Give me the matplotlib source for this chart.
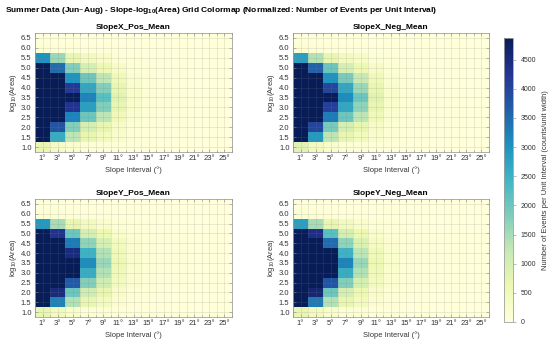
import numpy as np
import matplotlib
matplotlib.use("Agg")
import matplotlib.pyplot as plt
from matplotlib.ticker import MultipleLocator

plt.rcParams['font.family'] = ['Liberation Sans', 'DejaVu Sans']
plt.rcParams['mathtext.default'] = 'regular'

slope_centers = [1, 3, 5, 7, 9, 11, 13, 15, 17, 19, 21, 23, 25]
slope_labels = [f"{s}°" for s in slope_centers]
logarea_centers = [1.0, 1.5, 2.0, 2.5, 3.0, 3.5, 4.0, 4.5, 5.0, 5.5, 6.0, 6.5]
panel_titles = ["SlopeX_Pos_Mean", "SlopeX_Neg_Mean", "SlopeY_Pos_Mean", "SlopeY_Neg_Mean"]

# rows: log10(Area) 1.0 .. 6.5 ; columns: slope 1..25
slopex_pos = [
    [650, 320, 160, 90, 60, 40, 25, 20, 15, 12, 10, 10, 8],
    [7000, 2600, 1300, 700, 420, 200, 80, 40, 25, 18, 14, 12, 10],
    [8500, 3800, 1800, 1000, 700, 300, 110, 50, 30, 20, 15, 12, 10],
    [9500, 6500, 3200, 2000, 1300, 500, 160, 70, 35, 22, 16, 13, 10],
    [9800, 7500, 4300, 2800, 1800, 700, 220, 90, 40, 25, 18, 14, 11],
    [9900, 8000, 5000, 3200, 2200, 800, 260, 100, 45, 28, 20, 15, 12],
    [9700, 7600, 4200, 2700, 1800, 700, 220, 90, 40, 25, 18, 14, 11],
    [9000, 6800, 3000, 2000, 1300, 500, 160, 70, 35, 22, 16, 13, 10],
    [7500, 3500, 1800, 1000, 600, 300, 110, 50, 30, 20, 15, 12, 10],
    [3000, 1600, 700, 400, 250, 100, 50, 30, 20, 15, 12, 10, 8],
    [110, 70, 45, 30, 25, 20, 15, 12, 10, 9, 8, 8, 7],
    [25, 20, 15, 12, 10, 10, 9, 8, 8, 7, 7, 7, 6],
]
slopex_neg = [
    [800, 400, 200, 110, 70, 45, 28, 20, 15, 12, 10, 10, 8],
    [7200, 2900, 1300, 700, 420, 200, 80, 40, 25, 18, 14, 12, 10],
    [8600, 4000, 1900, 1000, 700, 300, 110, 50, 30, 20, 15, 12, 10],
    [9600, 6600, 3300, 2000, 1300, 500, 160, 70, 35, 22, 16, 13, 10],
    [9900, 7600, 4100, 2700, 1700, 700, 220, 90, 40, 25, 18, 14, 11],
    [9900, 8100, 5000, 3100, 2000, 800, 260, 100, 45, 28, 20, 15, 12],
    [9800, 7700, 4000, 2700, 1600, 700, 220, 90, 40, 25, 18, 14, 11],
    [9100, 6900, 3000, 1900, 1200, 500, 160, 70, 35, 22, 16, 13, 10],
    [7600, 3600, 2000, 1000, 600, 300, 110, 50, 30, 20, 15, 12, 10],
    [2800, 1400, 700, 400, 300, 100, 50, 30, 20, 15, 12, 10, 8],
    [120, 75, 50, 35, 25, 20, 15, 12, 10, 9, 8, 8, 7],
    [25, 20, 15, 12, 10, 10, 9, 8, 8, 7, 7, 7, 6],
]
slopey_pos = [
    [700, 400, 200, 100, 60, 40, 25, 20, 15, 12, 10, 10, 8],
    [7300, 3200, 1400, 700, 400, 150, 70, 35, 22, 16, 13, 11, 9],
    [8800, 4500, 2000, 1100, 700, 250, 100, 45, 28, 18, 14, 12, 10],
    [9600, 7000, 3700, 1800, 1100, 400, 140, 60, 32, 20, 15, 12, 10],
    [9900, 7900, 5200, 2600, 1400, 500, 180, 75, 38, 23, 17, 13, 11],
    [9900, 8300, 5600, 3100, 1600, 600, 200, 85, 40, 25, 18, 14, 11],
    [9800, 8000, 4500, 2500, 1400, 500, 180, 75, 38, 23, 17, 13, 11],
    [9200, 7200, 3300, 1700, 1000, 400, 140, 60, 32, 20, 15, 12, 10],
    [7800, 4300, 2000, 1000, 600, 200, 90, 40, 25, 18, 14, 11, 9],
    [2900, 1500, 700, 400, 200, 80, 40, 25, 18, 14, 11, 10, 8],
    [110, 70, 45, 30, 22, 18, 14, 12, 10, 9, 8, 8, 7],
    [25, 20, 15, 12, 10, 10, 9, 8, 8, 7, 7, 7, 6],
]
slopey_neg = [
    [700, 400, 200, 100, 60, 40, 25, 20, 15, 12, 10, 10, 8],
    [7400, 3300, 1400, 700, 400, 150, 70, 35, 22, 16, 13, 11, 9],
    [8900, 4600, 2000, 1000, 600, 250, 100, 45, 28, 18, 14, 12, 10],
    [9700, 7100, 3800, 1800, 1000, 400, 140, 60, 32, 20, 15, 12, 10],
    [9900, 8000, 5300, 2600, 1400, 500, 180, 75, 38, 23, 17, 13, 11],
    [9900, 8400, 5700, 3200, 1600, 600, 200, 85, 40, 25, 18, 14, 11],
    [9800, 8100, 5000, 2500, 1300, 500, 180, 75, 38, 23, 17, 13, 11],
    [9300, 7300, 3500, 1700, 900, 350, 140, 60, 32, 20, 15, 12, 10],
    [7900, 4400, 2200, 1000, 600, 200, 90, 40, 25, 18, 14, 11, 9],
    [2800, 1500, 700, 400, 200, 80, 40, 25, 18, 14, 11, 10, 8],
    [110, 70, 45, 30, 22, 18, 14, 12, 10, 9, 8, 8, 7],
    [25, 20, 15, 12, 10, 10, 9, 8, 8, 7, 7, 7, 6],
]
panels = [slopex_pos, slopex_neg, slopey_pos, slopey_neg]

vmin, vmax = 0, 4870
cmap = plt.get_cmap('YlGnBu')

fig = plt.figure(figsize=(5.5, 3.43), dpi=100)
W, H = 550, 343
boxes = [(35, 33, 232, 152), (293, 33, 489, 152), (35, 199, 232, 317), (293, 199, 489, 317)]

xc = np.array(slope_centers, dtype=float)
yc = np.array(logarea_centers, dtype=float)
xedges = np.concatenate([xc - 1, [xc[-1] + 1]])
yedges = np.concatenate([yc - 0.25, [yc[-1] + 0.25]])

tick_color = '#333333'
mesh = None
for (l, t, r, b), data, title in zip(boxes, panels, panel_titles):
    ax = fig.add_axes([l / W, 1 - b / H, (r - l) / W, (b - t) / H])
    mesh = ax.pcolormesh(xedges, yedges, np.array(data, dtype=float), cmap=cmap,
                         vmin=vmin, vmax=vmax, shading='flat')
    ax.set_xlim(xedges[0], xedges[-1])
    ax.set_ylim(yedges[0], yedges[-1])
    ax.set_xticks(xc)
    ax.set_xticklabels(slope_labels)
    ax.xaxis.set_minor_locator(MultipleLocator(1))
    ax.set_yticks(yc)
    ax.set_yticklabels([f"{v:.1f}" for v in yc])
    ax.tick_params(axis='both', which='both', direction='in', labelsize=5.5,
                   colors='#888888', labelcolor=tick_color, length=2, width=0.4,
                   top=True, right=True, pad=2.5)
    ax.tick_params(axis='both', which='minor', length=1.2)
    ax.set_axisbelow(False)
    ax.grid(True, which='both', color='#7f7f7f', alpha=0.22, linewidth=0.5)
    for s in ax.spines.values():
        s.set_color('#a0a0a0')
        s.set_linewidth(0.6)
    ax.set_title(title, fontsize=6.0, fontweight='bold', pad=3)
    ax.set_ylabel("log$_{10}$(Area)", fontsize=5.4, labelpad=1.5, color=tick_color)
    ax.set_xlabel("Slope Interval (°)", fontsize=5.4, labelpad=3, color=tick_color)

cax = fig.add_axes([504 / W, 1 - 322 / H, 9 / W, (322 - 38) / H])
cb = fig.colorbar(mesh, cax=cax)
cb.set_ticks(np.arange(0, 4501, 500))
cb.ax.tick_params(labelsize=5.0, length=2, width=0.4, colors='#888888', labelcolor=tick_color)
cb.outline.set_edgecolor('#a0a0a0')
cb.outline.set_linewidth(0.6)
cb.set_label("Number of Events per Unit Interval (counts/unit width)", fontsize=5.4,
             color=tick_color, labelpad=4)

fig.text(5 / W, 1 - 11 / H,
         "Summer Data (Jun–Aug) - Slope-log$_{10}$(Area) Grid Colormap (Normalized: Number of Events per Unit Interval)",
         fontsize=6.0, fontweight='bold', ha='left', va='center')

fig.savefig("out.png", dpi=100)
